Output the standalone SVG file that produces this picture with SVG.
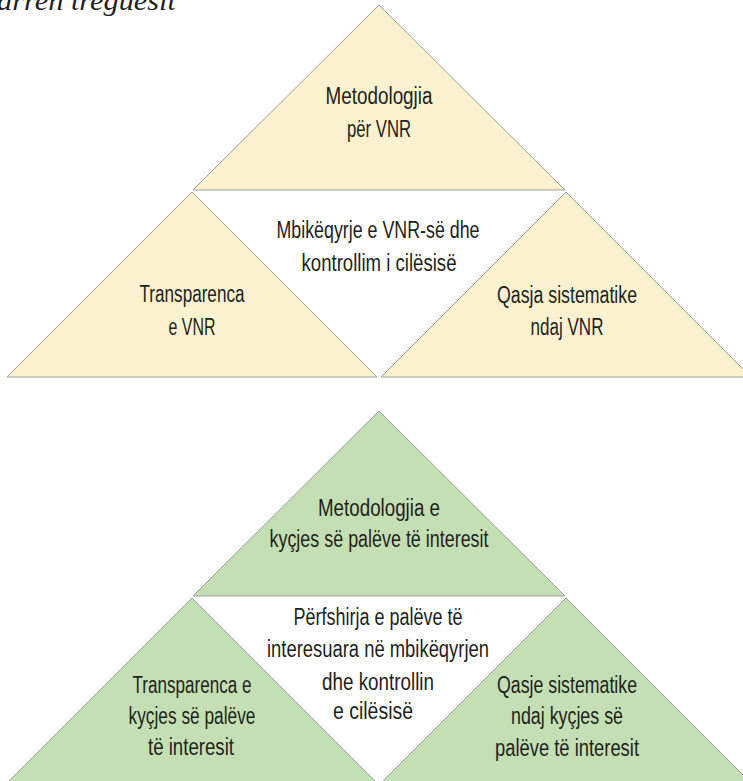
<svg xmlns="http://www.w3.org/2000/svg" width="743" height="781" viewBox="0 0 743 781">
<style>
.tri{stroke:#9e9e9e;stroke-width:1;stroke-linejoin:miter}
.y{fill:#fdf2d0}
.g{fill:#c5dfb4}
.t{font-family:"Liberation Sans",Arial,sans-serif;font-size:23.5px;fill:#231f20;text-anchor:middle}
.cap{font-family:"Liberation Serif","Times New Roman",serif;font-style:italic;font-size:28px;fill:#231f20}
</style>
<rect width="743" height="781" fill="#ffffff"/>
<text class="cap" x="-3" y="10" textLength="179" lengthAdjust="spacingAndGlyphs">arren treguesit</text>

<g id="vnr-top">
<polygon class="tri y" points="379,5 193,190 565,190"/>
<text class="t" x="379" y="104" textLength="107" lengthAdjust="spacingAndGlyphs">Metodologjia</text>
<text class="t" x="379" y="137" textLength="64" lengthAdjust="spacingAndGlyphs">për VNR</text>
</g>
<g id="vnr-left">
<polygon class="tri y" points="192,192 7,377 377,377"/>
<text class="t" x="192" y="302" textLength="105" lengthAdjust="spacingAndGlyphs">Transparenca</text>
<text class="t" x="192" y="335" textLength="47" lengthAdjust="spacingAndGlyphs">e VNR</text>
</g>
<g id="vnr-right">
<polygon class="tri y" points="566,192 381,377 751,377"/>
<text class="t" x="567" y="303" textLength="140" lengthAdjust="spacingAndGlyphs">Qasja sistematike</text>
<text class="t" x="567" y="335" textLength="73" lengthAdjust="spacingAndGlyphs">ndaj VNR</text>
</g>
<g id="vnr-center">
<text class="t" x="378" y="238" textLength="203" lengthAdjust="spacingAndGlyphs">Mbikëqyrje e VNR-së dhe</text>
<text class="t" x="379" y="271" textLength="155" lengthAdjust="spacingAndGlyphs">kontrollim i cilësisë</text>
</g>

<g id="pi-top">
<polygon class="tri g" points="379,411 193,596 565,596"/>
<text class="t" x="379" y="516" textLength="122" lengthAdjust="spacingAndGlyphs">Metodologjia e</text>
<text class="t" x="379" y="547" textLength="219" lengthAdjust="spacingAndGlyphs">kyçjes së palëve të interesit</text>
</g>
<g id="pi-left">
<polygon class="tri g" points="192,598 7,783 377,783"/>
<text class="t" x="192" y="693" textLength="119" lengthAdjust="spacingAndGlyphs">Transparenca e</text>
<text class="t" x="192" y="724" textLength="127" lengthAdjust="spacingAndGlyphs">kyçjes së palëve</text>
<text class="t" x="191" y="755" textLength="86" lengthAdjust="spacingAndGlyphs">të interesit</text>
</g>
<g id="pi-right">
<polygon class="tri g" points="566,598 381,783 751,783"/>
<text class="t" x="567" y="693" textLength="140" lengthAdjust="spacingAndGlyphs">Qasje sistematike</text>
<text class="t" x="567" y="724" textLength="112" lengthAdjust="spacingAndGlyphs">ndaj kyçjes së</text>
<text class="t" x="567" y="756" textLength="144" lengthAdjust="spacingAndGlyphs">palëve të interesit</text>
</g>
<g id="pi-center">
<text class="t" x="378" y="625" textLength="169" lengthAdjust="spacingAndGlyphs">Përfshirja e palëve të</text>
<text class="t" x="378" y="657" textLength="222" lengthAdjust="spacingAndGlyphs">interesuara në mbikëqyrjen</text>
<text class="t" x="378" y="690" textLength="112" lengthAdjust="spacingAndGlyphs">dhe kontrollin</text>
<text class="t" x="373" y="719" textLength="80" lengthAdjust="spacingAndGlyphs">e cilësisë</text>
</g>
<g id="connectors"/>
</svg>
